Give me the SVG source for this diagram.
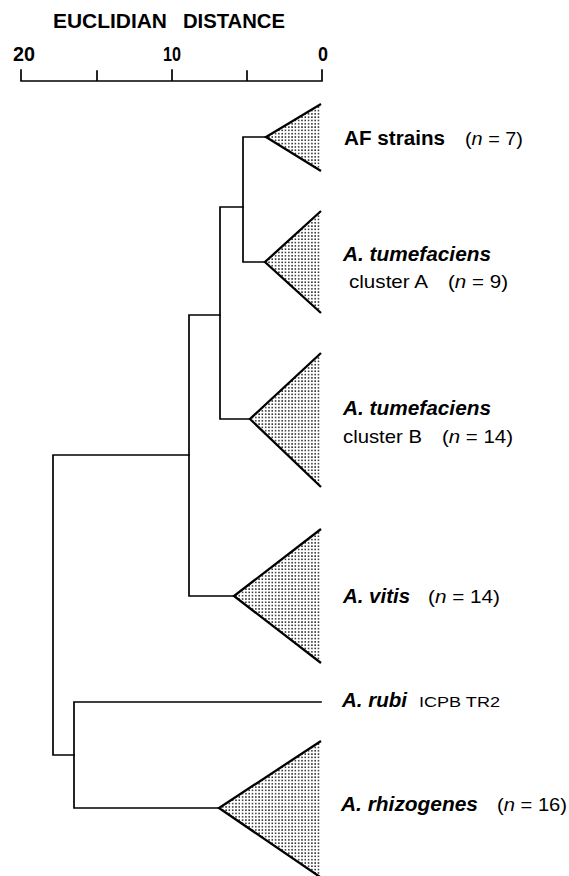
<svg xmlns="http://www.w3.org/2000/svg" width="569" height="876" viewBox="0 0 569 876">
<style>
text{font-family:"Liberation Sans",Arial,sans-serif;fill:#000}
.bi{font-weight:bold;font-style:italic;font-size:20px}
.r{font-size:19px}
.t{font-weight:bold;font-size:20px}
.ln{fill:none;stroke:#000;stroke-width:1.7;stroke-linecap:square}
.tri{fill:url(#dots);stroke:none}
.side{fill:none;stroke:#000;stroke-width:2.3;stroke-linejoin:miter}
</style>
<defs>
<pattern id="dots" patternUnits="userSpaceOnUse" width="3.3" height="3.3">
<rect width="3.3" height="3.3" fill="#fff"/>
<rect x="1" y="1" width="1.4" height="1.4" fill="#000"/>
</pattern>
</defs>
<rect width="569" height="876" fill="#fff"/>
<g id="axis">
<text class="t" x="53" y="28" textLength="114" lengthAdjust="spacingAndGlyphs">EUCLIDIAN</text>
<text class="t" x="183" y="28" textLength="102" lengthAdjust="spacingAndGlyphs">DISTANCE</text>
<text class="t" x="13" y="61" textLength="22" lengthAdjust="spacingAndGlyphs">20</text>
<text class="t" x="163" y="61" textLength="18" lengthAdjust="spacingAndGlyphs">10</text>
<text class="t" x="318" y="61" textLength="10" lengthAdjust="spacingAndGlyphs">0</text>
<path class="ln" d="M21,81H322M21,70V81M97,71V81M172,70V81M247,71V81M322,70V81"/>
</g>
<g id="connectors">
<path class="ln" d="M243,137H266M243,137V262M243,262H265"/>
<path class="ln" d="M220,207H243M220,207V419M220,419H250"/>
<path class="ln" d="M189,315H220M189,315V596M189,596H234"/>
<path class="ln" d="M53,455H189M53,455V755M53,755H74"/>
<path class="ln" d="M74,702V808M74,702H321M74,808H219"/>
</g>
<g id="af">
<polygon class="tri" points="266,137 321,104 321,171"/>
<path class="side" d="M321,104L266,137L321,171"/>
<text class="bi" style="font-style:normal" x="344" y="145" textLength="101" lengthAdjust="spacingAndGlyphs">AF strains</text>
<text class="r" x="465" y="145" textLength="58" lengthAdjust="spacingAndGlyphs">(<tspan font-style="italic">n</tspan> = 7)</text>
</g>
<g id="tumA">
<polygon class="tri" points="265,262 321,211 321,313"/>
<path class="side" d="M321,211L265,262L321,313"/>
<text class="bi" x="343" y="261" textLength="148" lengthAdjust="spacingAndGlyphs">A. tumefaciens</text>
<text class="r" x="349" y="288" textLength="79" lengthAdjust="spacingAndGlyphs">cluster A</text>
<text class="r" x="448" y="288" textLength="60" lengthAdjust="spacingAndGlyphs">(<tspan font-style="italic">n</tspan> = 9)</text>
</g>
<g id="tumB">
<polygon class="tri" points="250,419 321,353 321,487"/>
<path class="side" d="M321,353L250,419L321,487"/>
<text class="bi" x="343" y="415" textLength="148" lengthAdjust="spacingAndGlyphs">A. tumefaciens</text>
<text class="r" x="343" y="443" textLength="79" lengthAdjust="spacingAndGlyphs">cluster B</text>
<text class="r" x="442" y="443" textLength="71" lengthAdjust="spacingAndGlyphs">(<tspan font-style="italic">n</tspan> = 14)</text>
</g>
<g id="vitis">
<polygon class="tri" points="234,596 321,529 321,663"/>
<path class="side" d="M321,529L234,596L321,663"/>
<text class="bi" x="343" y="603" textLength="67" lengthAdjust="spacingAndGlyphs">A. vitis</text>
<text class="r" x="428" y="603" textLength="72" lengthAdjust="spacingAndGlyphs">(<tspan font-style="italic">n</tspan> = 14)</text>
</g>
<g id="rubi">
<text class="bi" x="342" y="707" textLength="65" lengthAdjust="spacingAndGlyphs">A. rubi</text>
<text x="419" y="707" style="font-size:15px" textLength="81" lengthAdjust="spacingAndGlyphs">ICPB TR2</text>
</g>
<g id="rhizogenes">
<polygon class="tri" points="219,808 321,741 321,878"/>
<path class="side" d="M321,741L219,808L323,879"/>
<text class="bi" x="341" y="811" textLength="137" lengthAdjust="spacingAndGlyphs">A. rhizogenes</text>
<text class="r" x="497" y="811" textLength="70" lengthAdjust="spacingAndGlyphs">(<tspan font-style="italic">n</tspan> = 16)</text>
</g>
</svg>
